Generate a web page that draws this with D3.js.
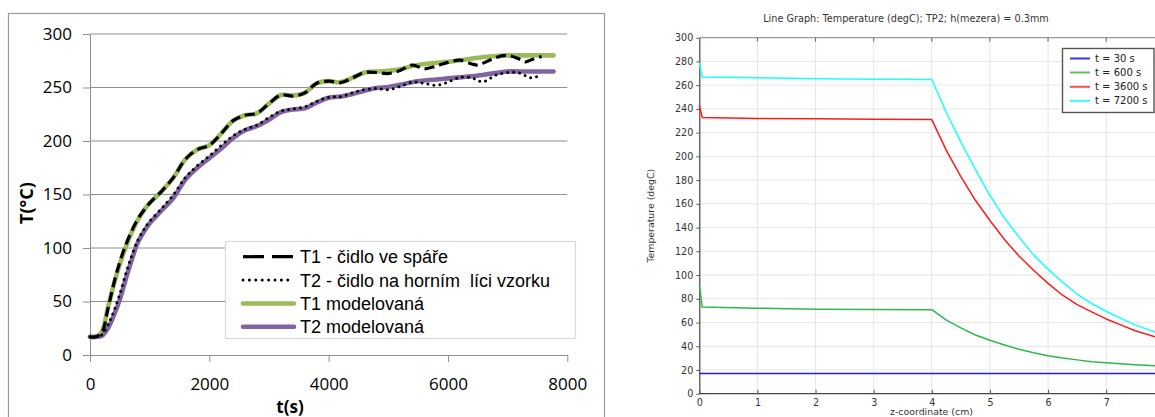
<!DOCTYPE html>
<html>
<head>
<meta charset="utf-8">
<script src="https://cdn.jsdelivr.net/npm/d3@7"></script>
<style>
  html, body { margin: 0; padding: 0; background: #fff; }
  svg { display: block; }
</style>
</head>
<body>
<svg id="chart" width="1155" height="417"></svg>
<script>
// ---- Left panel: measured and modelled temperatures versus time ----
const tModel = [0, 100, 200, 300, 400, 500, 600, 700, 800, 900, 1000, 1200, 1400, 1600, 1800, 2000, 2200, 2400, 2600, 2800, 3000, 3200, 3400, 3600, 3800, 4000, 4200, 4400, 4600, 4800, 5000, 5200, 5400, 5600, 5800, 6000, 6200, 6400, 6600, 6800, 7000, 7200, 7400, 7600, 7770];
const t1Model = [17, 17, 22, 44, 66, 85, 101, 115, 126, 135, 142, 153, 166, 183, 192, 196, 207, 219, 224, 226, 235, 243, 242.5, 245, 254, 256, 255, 259, 264, 265, 265.5, 267, 270, 272, 273, 274, 275.5, 277, 278.5, 279.5, 280, 280, 280, 280, 280];
const t2Model = [17, 17, 18, 25, 37, 52, 71, 89, 105, 115, 123, 135, 147, 164, 175, 184, 193, 203, 210, 214, 220, 227, 229.5, 230.5, 236, 240.5, 241.5, 244, 247, 249.5, 250.5, 252.5, 255, 256.5, 257.5, 258.5, 259.5, 260.5, 262, 263.5, 265, 265, 265, 265, 265];

const tMeas = [0, 100, 200, 300, 400, 500, 600, 700, 800, 900, 1000, 1200, 1400, 1600, 1800, 2000, 2200, 2400, 2600, 2800, 3000, 3200, 3400, 3600, 3800, 4000, 4200, 4400, 4600, 4800, 5000, 5200, 5400, 5600, 5800, 6000, 6200, 6400, 6500, 6600, 6800, 7000, 7200, 7300, 7400, 7570];
const t1Meas = [17, 17, 21, 43, 67, 87, 103, 116, 127, 135, 142, 153, 166, 183, 192, 196, 207, 219, 224, 226, 235, 243, 242, 245, 254, 256, 254.5, 259, 264, 264, 263, 266, 271, 267.5, 270, 273.5, 275.5, 272, 271, 273, 278, 280, 276.5, 274, 276, 279];
const t2Meas = [17, 17, 19, 28, 41, 57, 76, 93, 107, 117, 125, 137, 150, 166, 177, 186, 196, 205, 211, 215, 222, 228, 230, 232, 237, 241, 241.5, 245, 248, 249, 248, 251, 255, 254, 252, 255, 259.5, 259, 256.5, 255.5, 261.5, 264, 263.5, 261, 259, 262];

const leftYTicks = [0, 50, 100, 150, 200, 250, 300];
const leftXTicks = [0, 2000, 4000, 6000, 8000];
const leftLegendLabels = ["T1 - čidlo ve spáře", "T2 - čidlo na horním  líci vzorku", "T1 modelovaná", "T2 modelovaná"];

// ---- Right panel: temperature profiles along the z-coordinate ----
const zProfile = [0, 0.05, 1, 2, 3, 4, 4.25, 4.5, 4.75, 5, 5.25, 5.5, 5.75, 6, 6.25, 6.5, 6.75, 7, 7.25, 7.5, 7.84];
const temp30 = [17, 17, 17, 17, 17, 17, 17, 17, 17, 17, 17, 17, 17, 17, 17, 17, 17, 17, 17, 17, 17];
const temp600 = [92, 73, 72, 71.2, 70.9, 70.8, 62, 55.5, 49.5, 45, 41, 37.5, 34.5, 32, 30, 28.5, 27, 26, 25.2, 24.5, 23.6];
const temp3600 = [243, 232.8, 232, 231.6, 231.2, 231, 205, 183, 163, 146, 130, 116, 104, 93, 83, 75, 69, 63, 58, 53, 48];
const temp7200 = [279, 266.8, 266.2, 265.5, 265, 264.8, 237, 212, 189, 167, 148, 132, 117, 105, 94, 84, 76, 69.5, 63.5, 58, 52];

const rightYTicks = [0, 20, 40, 60, 80, 100, 120, 140, 160, 180, 200, 220, 240, 260, 280, 300];
const rightXTicks = [0, 1, 2, 3, 4, 5, 6, 7];
const rightLegendLabels = ["t = 30 s", "t = 600 s", "t = 3600 s", "t = 7200 s"];
const rightTitle = "Line Graph: Temperature (degC); TP2; h(mezera) = 0.3mm";

const svg = d3.select("#chart");
svg.append("rect").attr("width", 1155).attr("height", 417).attr("fill", "#fff");

// ================= LEFT PANEL =================
const L = svg.append("g");
const numFont = "'Open Sans', sans-serif";
const gridGrey = "#8f8f8f";

// chart frame
L.append("rect")
  .attr("x", 8.5).attr("y", 13.5).attr("width", 596).attr("height", 430)
  .attr("fill", "none").attr("stroke", "#9a9a9a").attr("stroke-width", 1.2);

const xL = d3.scaleLinear().domain([0, 8000]).range([90, 567.3]);
const yL = d3.scaleLinear().domain([0, 300]).range([355, 34]);

// horizontal gridlines
L.append("g").selectAll("line")
  .data(leftYTicks.filter(v => v > 0))
  .join("line")
  .attr("x1", xL(0)).attr("x2", xL(8000))
  .attr("y1", d => yL(d)).attr("y2", d => yL(d))
  .attr("stroke", gridGrey).attr("stroke-width", 1);

// y axis
const yAxisL = L.append("g").attr("transform", `translate(${xL(0)},0)`)
  .call(d3.axisLeft(yL).tickValues(leftYTicks).tickFormat(d3.format("d"))
    .tickSize(7).tickSizeOuter(0).tickPadding(11));
// x axis
const xAxisL = L.append("g").attr("transform", `translate(0,${yL(0)})`)
  .call(d3.axisBottom(xL).tickValues(leftXTicks).tickFormat(d3.format("d"))
    .tickSize(7).tickSizeOuter(0));
[yAxisL, xAxisL].forEach(g => {
  g.select(".domain").attr("stroke", gridGrey);
  g.selectAll(".tick line").attr("stroke", gridGrey);
  g.selectAll("text").attr("font-family", numFont).attr("font-size", 17).attr("fill", "#000");
});
xAxisL.selectAll("text").attr("dy", null).attr("y", 35);

// axis titles
L.append("text")
  .attr("transform", "translate(33,203) rotate(-90)")
  .attr("text-anchor", "middle")
  .attr("font-family", numFont).attr("font-weight", "bold").attr("font-size", 18)
  .text("T(°C)");
L.append("text")
  .attr("x", 290).attr("y", 413)
  .attr("text-anchor", "middle")
  .attr("font-family", numFont).attr("font-weight", "bold").attr("font-size", 17)
  .text("t(s)");

const lineL = d3.line()
  .x(d => xL(d[0])).y(d => yL(d[1]))
  .curve(d3.curveCatmullRom.alpha(0.5));

const leftSeries = [
  { t: tModel, v: t1Model, stroke: "#9bbb59", width: 4.6, dash: null, cap: "round" },
  { t: tModel, v: t2Model, stroke: "#8064a2", width: 4.6, dash: null, cap: "round" },
  { t: tMeas, v: t1Meas, stroke: "#000", width: 3.2, dash: "10,5", cap: "butt" },
  { t: tMeas, v: t2Meas, stroke: "#000", width: 3, dash: "0,6", cap: "round" }
];
leftSeries.forEach(s => {
  L.append("path")
    .datum(s.t.map((t, i) => [t, s.v[i]]))
    .attr("d", lineL)
    .attr("fill", "none")
    .attr("stroke", s.stroke)
    .attr("stroke-width", s.width)
    .attr("stroke-linecap", s.cap)
    .attr("stroke-linejoin", "round")
    .attr("stroke-dasharray", s.dash);
});

// legend
const legL = L.append("g");
legL.append("rect")
  .attr("x", 225.5).attr("y", 241.5).attr("width", 350).attr("height", 97)
  .attr("fill", "#fff").attr("stroke", "#d9d9d9").attr("stroke-width", 1.2);
const legStyles = [
  { stroke: "#000", width: 3.2, dash: "21,8", cap: "butt" },
  { stroke: "#000", width: 3, dash: "0,6.4", cap: "round" },
  { stroke: "#9bbb59", width: 4.6, dash: null, cap: "round" },
  { stroke: "#8064a2", width: 4.6, dash: null, cap: "round" }
];
const legRowsL = [256.7, 280, 303.5, 326.7];
leftLegendLabels.forEach((lab, i) => {
  const st = legStyles[i];
  legL.append("line")
    .attr("x1", 243).attr("x2", 294)
    .attr("y1", legRowsL[i]).attr("y2", legRowsL[i])
    .attr("stroke", st.stroke).attr("stroke-width", st.width)
    .attr("stroke-dasharray", st.dash).attr("stroke-linecap", st.cap);
  legL.append("text")
    .attr("x", 300).attr("y", legRowsL[i] + 6.5)
    .attr("font-family", "'Liberation Sans', Arial, sans-serif")
    .attr("font-size", 18)
    .style("white-space", "pre")
    .text(lab);
});

// ================= RIGHT PANEL =================
const R = svg.append("g");
const rFont = "'DejaVu Sans', sans-serif";

const xR = d3.scaleLinear().domain([0, 7.84]).range([699.3, 1155]);
const yR = d3.scaleLinear().domain([0, 300]).range([393.7, 37.7]);

// title
R.append("text")
  .attr("x", 906).attr("y", 21.5)
  .attr("text-anchor", "middle")
  .attr("font-family", rFont).attr("font-size", 9.7).attr("fill", "#333")
  .text(rightTitle);

// grid
R.append("g").selectAll("line")
  .data(rightYTicks.filter(v => v > 0 && v < 300))
  .join("line")
  .attr("x1", xR(0)).attr("x2", 1155)
  .attr("y1", d => yR(d)).attr("y2", d => yR(d))
  .attr("stroke", "#e6e6e6").attr("stroke-width", 1);
R.append("g").selectAll("line")
  .data(rightXTicks.filter(v => v > 0))
  .join("line")
  .attr("x1", d => xR(d)).attr("x2", d => xR(d))
  .attr("y1", yR(0)).attr("y2", yR(300))
  .attr("stroke", "#e6e6e6").attr("stroke-width", 1);

// top frame line with inward ticks
R.append("line")
  .attr("x1", xR(0)).attr("x2", 1155).attr("y1", yR(300)).attr("y2", yR(300))
  .attr("stroke", "#9a9a9a").attr("stroke-width", 1.2);
R.append("g").selectAll("line")
  .data(rightXTicks.filter(v => v > 0))
  .join("line")
  .attr("x1", d => xR(d)).attr("x2", d => xR(d))
  .attr("y1", yR(300)).attr("y2", yR(300) + 4)
  .attr("stroke", "#666");

const yAxisR = R.append("g").attr("transform", `translate(${xR(0)},0)`)
  .call(d3.axisLeft(yR).tickValues(rightYTicks).tickSize(3).tickSizeOuter(0).tickPadding(3));
const xAxisR = R.append("g").attr("transform", `translate(0,${yR(0)})`)
  .call(d3.axisBottom(xR).tickValues(rightXTicks).tickSize(-4).tickSizeOuter(0));
[yAxisR, xAxisR].forEach(g => {
  g.select(".domain").attr("stroke", "#444").attr("stroke-width", 1.2);
  g.selectAll(".tick line").attr("stroke", "#555");
  g.selectAll("text").attr("font-family", rFont).attr("font-size", 9.6).attr("fill", "#333");
});
xAxisR.selectAll("text").attr("dy", null).attr("y", 12);
xAxisR.select(".domain").attr("d", `M${xR(0)},0H1155`);

// axis titles
R.append("text")
  .attr("transform", "translate(654,215.7) rotate(-90)")
  .attr("text-anchor", "middle")
  .attr("font-family", rFont).attr("font-size", 9.4).attr("fill", "#333")
  .text("Temperature (degC)");
R.append("text")
  .attr("x", 931.5).attr("y", 414.5)
  .attr("text-anchor", "middle")
  .attr("font-family", rFont).attr("font-size", 9.4).attr("fill", "#333")
  .text("z-coordinate (cm)");

const profileColors = ["#1a1aff", "#2eb84b", "#ff1a1a", "#1affff"];
const profiles = [temp30, temp600, temp3600, temp7200];
const lineR = d3.line().x(d => xR(d[0])).y(d => yR(d[1]));
profiles.forEach((vals, i) => {
  R.append("path")
    .datum(zProfile.map((z, k) => [z, vals[k]]))
    .attr("d", lineR)
    .attr("fill", "none")
    .attr("stroke", profileColors[i])
    .attr("stroke-width", 1.5)
    .attr("stroke-linejoin", "round");
});

// legend
const legR = R.append("g");
legR.append("rect")
  .attr("x", 1062.5).attr("y", 48.5).attr("width", 91.5).attr("height", 64)
  .attr("fill", "#fff").attr("stroke", "#555").attr("stroke-width", 1.4);
const legRowsR = [58.5, 72.5, 86.8, 100.8];
const legColorsR = ["#3333ff", "#5cc45c", "#ff4d4d", "#33ffff"];
rightLegendLabels.forEach((lab, i) => {
  legR.append("line")
    .attr("x1", 1070).attr("x2", 1090)
    .attr("y1", legRowsR[i]).attr("y2", legRowsR[i])
    .attr("stroke", legColorsR[i]).attr("stroke-width", 2);
  legR.append("text")
    .attr("x", 1095).attr("y", legRowsR[i] + 3.6)
    .attr("font-family", rFont).attr("font-size", 10).attr("fill", "#222")
    .text(lab);
});
</script>
</body>
</html>
